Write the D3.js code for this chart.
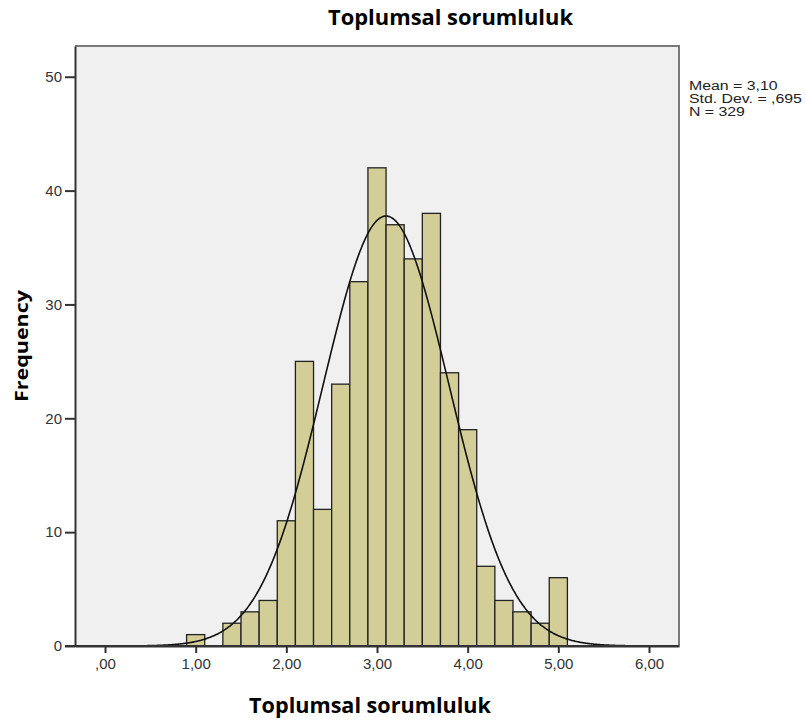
<!DOCTYPE html>
<html>
<head>
<meta charset="utf-8">
<script src="https://cdn.jsdelivr.net/npm/d3@7"></script>
<style>
  html, body { margin: 0; padding: 0; background: #ffffff; }
  svg { display: block; }
</style>
</head>
<body>
<svg id="chart" width="806" height="724"></svg>
<script>
// Histogram of "Toplumsal sorumluluk" scores with a fitted normal curve
const binCenters = [1.0, 1.2, 1.4, 1.6, 1.8, 2.0, 2.2, 2.4, 2.6, 2.8, 3.0, 3.2, 3.4, 3.6, 3.8, 4.0, 4.2, 4.4, 4.6, 4.8, 5.0];
const frequencies = [1, 0, 2, 3, 4, 11, 25, 12, 23, 32, 42, 37, 34, 38, 24, 19, 7, 4, 3, 2, 6];
const binWidth = 0.2;
const xTicks = [0, 1, 2, 3, 4, 5, 6];
const yTicks = [0, 10, 20, 30, 40, 50];
const statMean = 3.10;
const statSD = 0.695;
const statN = 329;
const statLines = ["Mean = 3,10", "Std. Dev. = ,695", "N = 329"];
const titleText = "Toplumsal sorumluluk";
const xLabel = "Toplumsal sorumluluk";
const yLabel = "Frequency";

const svg = d3.select("#chart");
const plotL = 75, plotR = 679, plotT = 46, plotB = 646;

const x = d3.scaleLinear().domain([-0.331, 6.331]).range([plotL, plotR]);
const y = d3.scaleLinear().domain([0, 52.7]).range([plotB, plotT]);

const fmtComma = d => d3.format(".2f")(d).replace(".", ",").replace(/^0,/, ",");

// plot background
svg.append("rect")
  .attr("x", plotL).attr("y", plotT)
  .attr("width", plotR - plotL).attr("height", plotB - plotT)
  .attr("fill", "#f0f0f0");

// frame: top and right in grey
svg.append("path")
  .attr("d", `M${plotL},${plotT}H${plotR}V${plotB}`)
  .attr("fill", "none").attr("stroke", "#7a7a7a").attr("stroke-width", 2);

// bars
const bars = binCenters.map((c, i) => ({ c, f: frequencies[i] })).filter(d => d.f > 0);
svg.append("g").selectAll("rect").data(bars).join("rect")
  .attr("x", d => x(d.c - binWidth / 2))
  .attr("y", d => y(d.f))
  .attr("width", d => x(d.c + binWidth / 2) - x(d.c - binWidth / 2))
  .attr("height", d => y(0) - y(d.f))
  .attr("fill", "#d3ce98")
  .attr("stroke", "#222")
  .attr("stroke-width", 1.3);

// normal curve scaled to the histogram
const pdf = v => statN * binWidth / (statSD * Math.sqrt(2 * Math.PI)) *
  Math.exp(-0.5 * Math.pow((v - statMean) / statSD, 2));
const curvePts = d3.range(0, 401).map(i => {
  const v = x.domain()[0] + (x.domain()[1] - x.domain()[0]) * i / 400;
  return [v, pdf(v)];
});
svg.append("path")
  .datum(curvePts)
  .attr("d", d3.line().x(d => x(d[0])).y(d => y(d[1])).curve(d3.curveBasis))
  .attr("fill", "none")
  .attr("stroke", "#111")
  .attr("stroke-width", 1.6);

// axes
const xAxis = svg.append("g")
  .attr("transform", `translate(0,${plotB})`)
  .call(d3.axisBottom(x).tickValues(xTicks).tickFormat(fmtComma).tickSize(7).tickSizeOuter(0).tickPadding(5));
const yAxis = svg.append("g")
  .attr("transform", `translate(${plotL},0)`)
  .call(d3.axisLeft(y).tickValues(yTicks).tickFormat(d3.format("d")).tickSize(10).tickSizeOuter(0).tickPadding(3));

[xAxis, yAxis].forEach(g => {
  g.select(".domain").attr("stroke", "#333").attr("stroke-width", 2);
  g.selectAll(".tick line").attr("stroke", "#333").attr("stroke-width", 2);
  g.selectAll(".tick text")
    .attr("fill", "#333")
    .style("font-family", "'Liberation Sans', Arial, sans-serif")
    .style("font-size", "15px");
});
// extend the baseline to meet the zero tick
svg.append("line")
  .attr("x1", plotL - 10).attr("x2", plotR)
  .attr("y1", plotB).attr("y2", plotB)
  .attr("stroke", "#333").attr("stroke-width", 2);

// scale factor that brings a text to a target length along its baseline
function fitText(sel, target) {
  const len = sel.node().getComputedTextLength();
  return target / len;
}

const titleFont = "'Open Sans', 'Noto Sans', sans-serif";

const t1 = svg.append("text")
  .attr("text-anchor", "middle")
  .style("font-family", titleFont).style("font-weight", "bold").style("font-size", "21px")
  .attr("fill", "#000")
  .text(titleText);
const s1 = fitText(t1, 245);
t1.attr("transform", `translate(450.5,25) scale(${s1},1)`);

const t2 = svg.append("text")
  .attr("text-anchor", "middle")
  .style("font-family", titleFont).style("font-weight", "bold").style("font-size", "21px")
  .attr("fill", "#000")
  .text(xLabel);
const s2 = fitText(t2, 242);
t2.attr("transform", `translate(370,713) scale(${s2},1)`);

const t3 = svg.append("text")
  .attr("text-anchor", "middle")
  .style("font-family", titleFont).style("font-weight", "bold").style("font-size", "18px")
  .attr("fill", "#000")
  .text(yLabel);
const s3 = fitText(t3, 112);
t3.attr("transform", `translate(28,346) rotate(-90) scale(${s3},1)`);

// summary statistics, packed tightly like a stats box
const statG = svg.append("g");
const statTexts = statG.selectAll("text").data(statLines).join("text")
  .attr("x", 0)
  .attr("y", (d, i) => i * 13.2)
  .attr("fill", "#222")
  .style("font-family", "'Liberation Sans', Arial, sans-serif")
  .style("font-size", "12px")
  .text(d => d);
const sStat = fitText(d3.select(statTexts.nodes()[1]), 113);
statG.attr("transform", `translate(689,90) scale(${sStat},1)`);
</script>
</body>
</html>
